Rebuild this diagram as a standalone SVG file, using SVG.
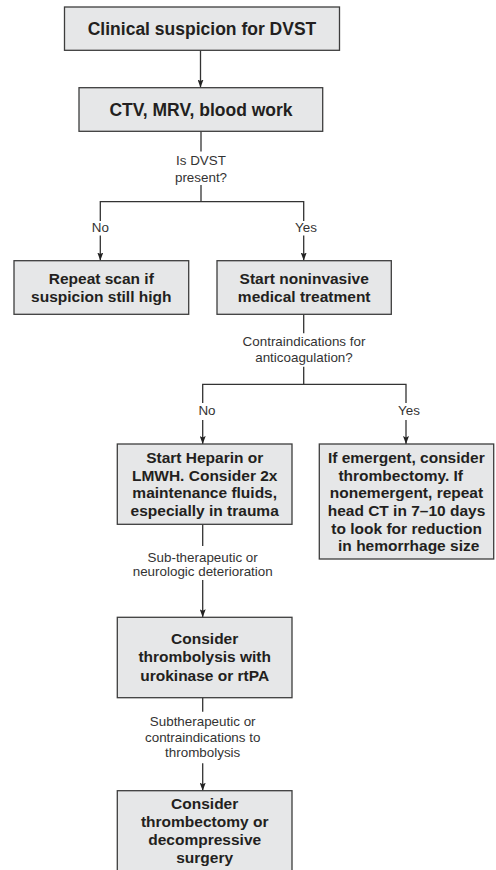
<svg xmlns="http://www.w3.org/2000/svg" width="496" height="870" viewBox="0 0 496 870">
<style>
.box{fill:#e6e7e8;stroke:#3d3d3d;stroke-width:1.3}
.t{font-family:"Liberation Sans",Arial,sans-serif;font-weight:bold;fill:#231f20;text-anchor:middle}
.big{font-size:17.5px}
.mid{font-size:15.5px}
.lbl{font-family:"Liberation Sans",Arial,sans-serif;font-size:13.4px;fill:#333;text-anchor:middle}
.ln{stroke:#333;stroke-width:1.3;fill:none}
</style>
<defs>
<marker id="ah" viewBox="0 0 8 6" refX="8" refY="3" markerWidth="8" markerHeight="6" markerUnits="userSpaceOnUse" orient="auto">
<path d="M0,0 L8,3 L0,6 L1.5,3 z" fill="#222"/>
</marker>
</defs>
<rect width="496" height="870" fill="#fff"/>
<g id="connectors">
<line class="ln" x1="200.5" y1="50.3" x2="200.5" y2="87.5" marker-end="url(#ah)"/>
<line class="ln" x1="201" y1="131.3" x2="201" y2="151.5"/>
<line class="ln" x1="201" y1="185" x2="201" y2="201.7"/>
<polyline class="ln" points="100.3,221 100.3,201.7 303.7,201.7 303.7,221"/>
<line class="ln" x1="100.3" y1="235.5" x2="100.3" y2="260.5" marker-end="url(#ah)"/>
<line class="ln" x1="303.7" y1="235.5" x2="303.7" y2="260.5" marker-end="url(#ah)"/>
<text class="lbl" x="201" y="165">Is DVST</text>
<text class="lbl" x="201" y="181.5">present?</text>
<text class="lbl" x="100.3" y="231.5">No</text>
<text class="lbl" x="306" y="231.5">Yes</text>
<line class="ln" x1="303.7" y1="314.3" x2="303.7" y2="333.3"/>
<line class="ln" x1="303.7" y1="366.7" x2="303.7" y2="384.3"/>
<polyline class="ln" points="202.7,403 202.7,384.3 406,384.3 406,403"/>
<line class="ln" x1="202.7" y1="420" x2="202.7" y2="444" marker-end="url(#ah)"/>
<line class="ln" x1="406" y1="420" x2="406" y2="444" marker-end="url(#ah)"/>
<text class="lbl" x="304" y="346">Contraindications for</text>
<text class="lbl" x="304" y="361.7">anticoagulation?</text>
<text class="lbl" x="207" y="415">No</text>
<text class="lbl" x="409" y="415">Yes</text>
<line class="ln" x1="202.7" y1="524.3" x2="202.7" y2="546"/>
<line class="ln" x1="202.7" y1="580" x2="202.7" y2="617.3" marker-end="url(#ah)"/>
<text class="lbl" x="202.7" y="561.7">Sub-therapeutic or</text>
<text class="lbl" x="202.7" y="576">neurologic deterioration</text>
<line class="ln" x1="202.7" y1="697.7" x2="202.7" y2="711.7"/>
<line class="ln" x1="202.7" y1="763.3" x2="202.7" y2="790.7" marker-end="url(#ah)"/>
<text class="lbl" x="202.7" y="725.7">Subtherapeutic or</text>
<text class="lbl" x="202.7" y="741.7">contraindications to</text>
<text class="lbl" x="202.7" y="757.3">thrombolysis</text>
</g>
<g id="n1">
<rect class="box" x="64.5" y="7" width="275" height="43.3"/>
<text class="t big" x="202" y="34.5">Clinical suspicion for DVST</text>
</g>
<g id="n2">
<rect class="box" x="79" y="87.7" width="243.7" height="43.6"/>
<text class="t big" x="201" y="115.5">CTV, MRV, blood work</text>
</g>
<g id="n3">
<rect class="box" x="14" y="260.7" width="174.7" height="53.6"/>
<text class="t mid" x="101.3" y="284">Repeat scan if</text>
<text class="t mid" x="101.3" y="301.7">suspicion still high</text>
</g>
<g id="n4">
<rect class="box" x="217" y="260.7" width="174.3" height="53.6"/>
<text class="t mid" x="304.2" y="284">Start noninvasive</text>
<text class="t mid" x="304.2" y="301.7">medical treatment</text>
</g>
<g id="n5">
<rect class="box" x="117.3" y="444" width="174.7" height="80.3"/>
<text class="t mid" x="204.7" y="462.7">Start Heparin or</text>
<text class="t mid" x="204.7" y="480.7">LMWH. Consider 2x</text>
<text class="t mid" x="204.7" y="498.3">maintenance fluids,</text>
<text class="t mid" x="204.7" y="516">especially in trauma</text>
</g>
<g id="n6">
<rect class="box" x="319.3" y="444" width="174.4" height="115"/>
<text class="t mid" x="406.3" y="462.7">If emergent, consider</text>
<text class="t mid" x="400.7" y="480.7">thrombectomy. If</text>
<text class="t mid" x="406.5" y="498.3">nonemergent, repeat</text>
<text class="t mid" x="406.5" y="516">head CT in 7–10 days</text>
<text class="t mid" x="406.7" y="533.7">to look for reduction</text>
<text class="t mid" x="408.7" y="551.3">in hemorrhage size</text>
</g>
<g id="n7">
<rect class="box" x="117.3" y="617.3" width="174.7" height="80.4"/>
<text class="t mid" x="204.7" y="644.3">Consider</text>
<text class="t mid" x="204.7" y="662.3">thrombolysis with</text>
<text class="t mid" x="204.7" y="680.7">urokinase or rtPA</text>
</g>
<g id="n8">
<rect class="box" x="117.3" y="790.7" width="174.7" height="90"/>
<text class="t mid" x="204.7" y="809.3">Consider</text>
<text class="t mid" x="204.7" y="827.3">thrombectomy or</text>
<text class="t mid" x="204.7" y="845">decompressive</text>
<text class="t mid" x="204.7" y="862.7">surgery</text>
</g>
</svg>
